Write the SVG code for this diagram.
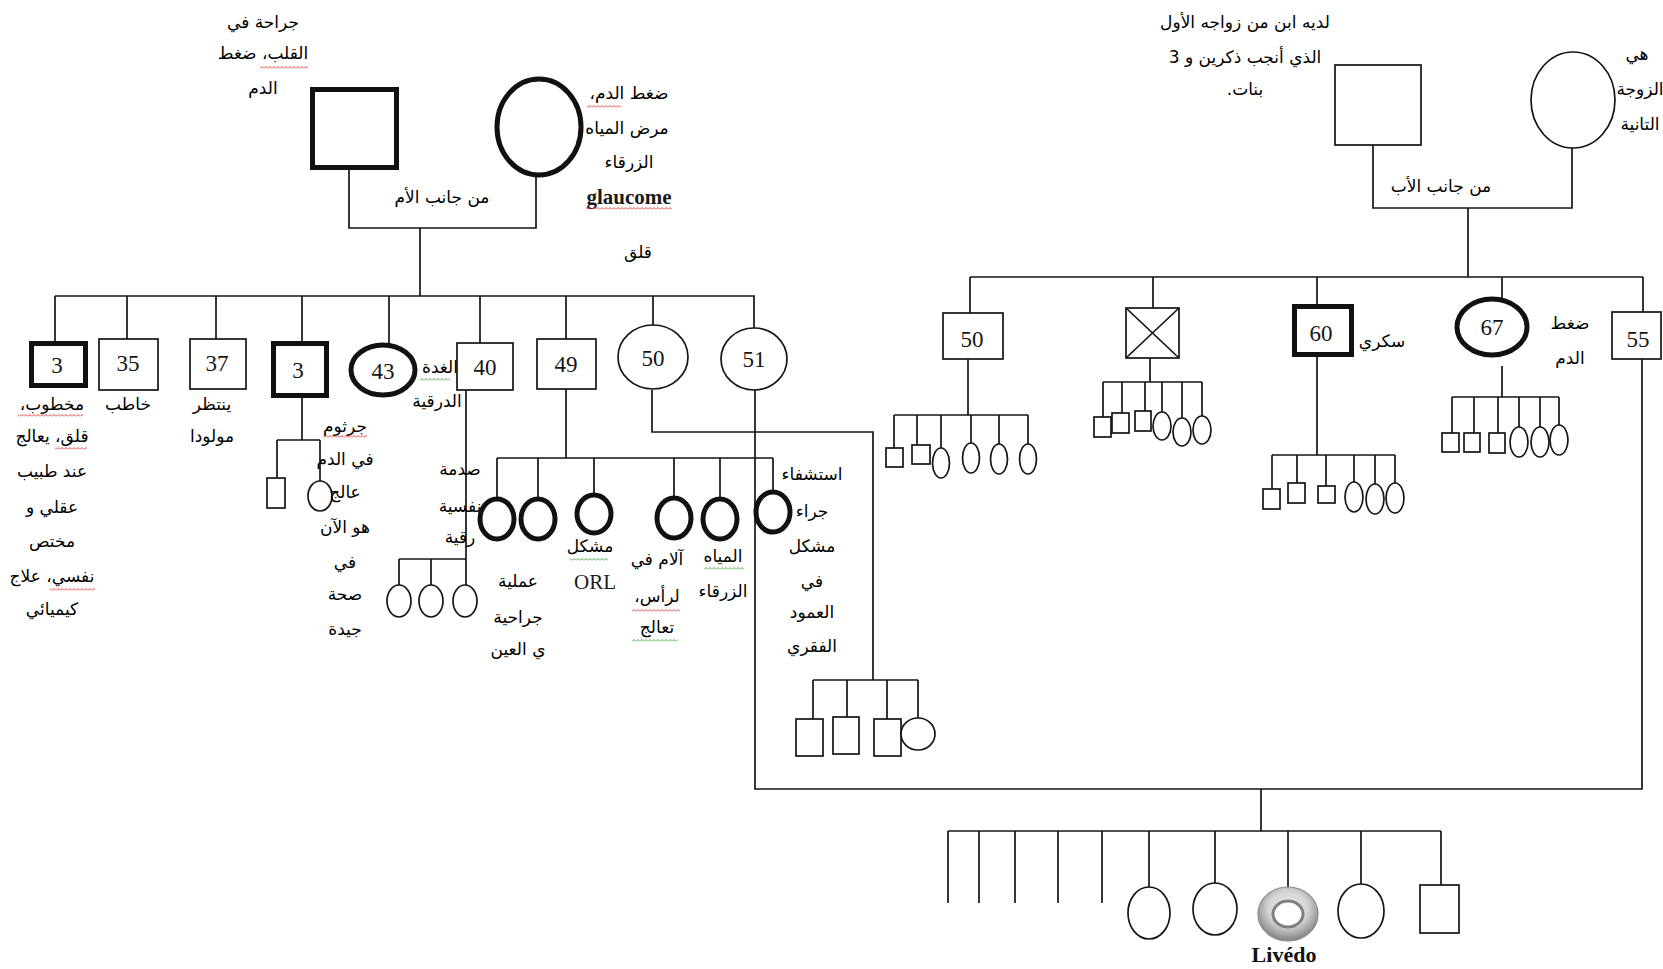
<svg xmlns="http://www.w3.org/2000/svg" width="1663" height="969" viewBox="0 0 1663 969">
<style>
.ln{stroke:#151515;stroke-width:1.7;fill:none}
.n{fill:#fff;stroke:#151515;stroke-width:1.7}
.nk{fill:#fff;stroke:#111;stroke-width:5}
.ar{font-family:"DejaVu Sans",sans-serif;font-size:17px;fill:#000;direction:rtl;text-anchor:middle}
.num{font-family:"Liberation Serif",serif;font-size:23px;fill:#151515;text-anchor:middle}
.lat{font-family:"Liberation Serif",serif;font-size:21px;fill:#1a1a1a;text-anchor:middle}
</style>
<defs>
<pattern id="wr" width="4" height="3" patternUnits="userSpaceOnUse"><path d="M0,2.5 L2,0.5 L4,2.5" stroke="#e0302a" stroke-width="0.9" fill="none"/></pattern>
<pattern id="wg" width="4" height="3" patternUnits="userSpaceOnUse"><path d="M0,2.5 L2,0.5 L4,2.5" stroke="#3aa03a" stroke-width="0.9" fill="none"/></pattern>
<radialGradient id="ring" cx="50%" cy="40%" r="62%">
<stop offset="0%" stop-color="#f8f8f8"/>
<stop offset="55%" stop-color="#d0d0d0"/>
<stop offset="100%" stop-color="#7a7a7a"/>
</radialGradient>
</defs>
<rect width="1663" height="969" fill="#fff"/>

<g id="connectors">
<path class="ln" d="M349,170 V228 H536 V177"/>
<path class="ln" d="M420,228 V296"/>
<path class="ln" d="M55,296 H755"/>
<path class="ln" d="M55,296 V341 M127,296 V339 M216,296 V339 M302,296 V341 M389,296 V345 M480,296 V343 M566,296 V339 M653,296 V325 M754,296 V328"/>
<path class="ln" d="M302,398 V440 M277,440 H320 M277,440 V478 M320,440 V481"/>
<path class="ln" d="M466,390 V585 M399,559 H466 M399,559 V585 M431,559 V585"/>
<path class="ln" d="M566,389 V458 M497,458 H773 M497,458 V497 M538,458 V497 M594,458 V493 M674,458 V496 M720,458 V497 M773,458 V490"/>
<path class="ln" d="M652,390 V432 H873 V680 M813,680 H918 M813,680 V719 M847,680 V717 M887,680 V719 M918,680 V718"/>
<path class="ln" d="M755,390 V789 H1642 V359"/>
<path class="ln" d="M1261,789 V831 M948,831 H1441"/>
<path class="ln" d="M948,831 V903 M979,831 V903 M1015,831 V903 M1058,831 V903 M1102,831 V903 M1149,831 V887 M1215,831 V883 M1288,831 V888 M1361,831 V884 M1441,831 V885"/>
<path class="ln" d="M1373,145 V208 H1572 V148"/>
<path class="ln" d="M1468,208 V277"/>
<path class="ln" d="M970,277 H1643"/>
<path class="ln" d="M970,277 V313 M1153,277 V308 M1317,277 V304 M1502,277 V300 M1643,277 V312"/>
<path class="ln" d="M968,359 V415 M894,415 H1028 M894,415 V448 M917,415 V445 M941,415 V448 M971,415 V443 M999,415 V444 M1028,415 V444"/>
<path class="ln" d="M1150,358 V382 M1103,382 H1202 M1103,382 V417 M1122,382 V413 M1145,382 V411 M1162,382 V412 M1182,382 V418 M1202,382 V416"/>
<path class="ln" d="M1317,357 V455 M1272,455 H1395 M1272,455 V489 M1297,455 V483 M1326,455 V486 M1354,455 V482 M1375,455 V484 M1395,455 V483"/>
<path class="ln" d="M1502,366 V397 M1452,397 H1559 M1452,397 V433 M1474,397 V433 M1498,397 V433 M1519,397 V427 M1540,397 V427 M1559,397 V425"/>
</g>

<g id="m-grandfather">
<rect class="nk" x="312.5" y="89.5" width="84" height="78"/>
<text class="ar" x="263" y="28">جراحة في</text>
<text class="ar" x="263" y="59">القلب، ضغط</text>
<text class="ar" x="263" y="94">الدم</text>
<rect x="260" y="66" width="48" height="3" fill="url(#wr)"/>
</g>
<g id="m-grandmother">
<ellipse class="nk" cx="539" cy="127" rx="42" ry="48"/>
<text class="ar" x="629" y="99">ضغط الدم،</text>
<text class="ar" x="627" y="134">مرض المياه</text>
<text class="ar" x="629" y="168">الزرقاء</text>
<text class="lat" x="629" y="204" font-weight="bold">glaucome</text>
<text class="ar" x="638" y="258">قلق</text>
<rect x="587" y="105" width="34" height="3" fill="url(#wr)"/>
<rect x="586" y="207" width="86" height="3" fill="url(#wr)"/>
</g>
<g id="m-label"><text class="ar" x="442" y="203">من جانب الأم</text></g>

<g id="mc1">
<rect class="nk" x="31.5" y="343.5" width="54" height="42"/>
<text class="num" x="57" y="373">3</text>
<text class="ar" x="52" y="410">مخطوب،</text>
<text class="ar" x="52" y="442">قلق، يعالج</text>
<text class="ar" x="52" y="477">عند طبيب</text>
<text class="ar" x="52" y="513">عقلي و</text>
<text class="ar" x="52" y="547">مختص</text>
<text class="ar" x="52" y="582">نفسي، علاج</text>
<text class="ar" x="52" y="615">كيميائي</text>
<rect x="18" y="414" width="65" height="3" fill="url(#wr)"/>
<rect x="55" y="447" width="32" height="3" fill="url(#wr)"/>
<rect x="50" y="588" width="45" height="3" fill="url(#wr)"/>
</g>
<g id="mc2">
<rect class="n" x="99" y="339" width="59" height="51"/>
<text class="num" x="128" y="371">35</text>
<text class="ar" x="128" y="410">خاطب</text>
</g>
<g id="mc3">
<rect class="n" x="190" y="339" width="56" height="50"/>
<text class="num" x="217" y="371">37</text>
<text class="ar" x="212" y="410">ينتظر</text>
<text class="ar" x="212" y="442">مولودا</text>
</g>
<g id="mc4">
<rect class="nk" x="273.5" y="343.5" width="53" height="52"/>
<text class="num" x="298" y="378">3</text>
<rect class="n" x="267" y="478" width="18" height="30"/>
<ellipse class="n" cx="320" cy="496" rx="12" ry="15"/>
<text class="ar" x="345" y="432">جرثوم</text>
<text class="ar" x="345" y="465">في الدم</text>
<text class="ar" x="345" y="498">عالج</text>
<text class="ar" x="345" y="533">هو الآن</text>
<text class="ar" x="345" y="568">في</text>
<text class="ar" x="345" y="600">صحة</text>
<text class="ar" x="345" y="635">جيدة</text>
<rect x="323" y="435" width="44" height="3" fill="url(#wr)"/>
</g>
<g id="mc5">
<ellipse class="nk" cx="383" cy="370" rx="32" ry="25"/>
<text class="num" x="383" y="379">43</text>
<text class="ar" x="440" y="373">الغدة</text>
<text class="ar" x="437" y="407">الدرقية</text>
<rect x="420" y="378" width="30" height="3" fill="url(#wg)"/>
</g>
<g id="mc6">
<rect class="n" x="457" y="343" width="56" height="47"/>
<text class="num" x="485" y="375">40</text>
<ellipse class="n" cx="399" cy="601" rx="12" ry="16"/>
<ellipse class="n" cx="431" cy="601" rx="12" ry="16"/>
<ellipse class="n" cx="465" cy="601" rx="12" ry="16"/>
<text class="ar" x="460" y="475">صدمة</text>
<text class="ar" x="460" y="512">نفسية</text>
<text class="ar" x="460" y="543">رقية</text>
</g>
<g id="mc7">
<rect class="n" x="537" y="339" width="59" height="50"/>
<text class="num" x="566" y="372">49</text>
<ellipse class="nk" cx="497" cy="519" rx="17" ry="20"/>
<ellipse class="nk" cx="538" cy="519" rx="17" ry="20"/>
<ellipse class="nk" cx="594" cy="514" rx="17" ry="19"/>
<ellipse class="nk" cx="674" cy="518" rx="17" ry="20"/>
<ellipse class="nk" cx="720" cy="519" rx="17" ry="20"/>
<ellipse class="nk" cx="773" cy="512" rx="17" ry="20"/>
<text class="ar" x="518" y="587">عملية</text>
<text class="ar" x="518" y="623">جراحية</text>
<text class="ar" x="518" y="655">ي العين</text>
<text class="ar" x="590" y="552">مشكل</text>
<text class="lat" x="595" y="589">ORL</text>
<text class="ar" x="657" y="565">آلام في</text>
<text class="ar" x="657" y="602">لرأس،</text>
<text class="ar" x="657" y="633">تعالج</text>
<text class="ar" x="723" y="562">المياه</text>
<text class="ar" x="723" y="597">الزرقاء</text>
<text class="ar" x="812" y="480">استشفاء</text>
<text class="ar" x="812" y="517">جراء</text>
<text class="ar" x="812" y="552">مشكل</text>
<text class="ar" x="812" y="587">في</text>
<text class="ar" x="812" y="618">العمود</text>
<text class="ar" x="812" y="652">الفقري</text>
<rect x="570" y="558" width="38" height="3" fill="url(#wg)"/>
<rect x="632" y="609" width="48" height="3" fill="url(#wr)"/>
<rect x="632" y="639" width="46" height="3" fill="url(#wg)"/>
<rect x="704" y="567" width="40" height="3" fill="url(#wg)"/>
</g>
<g id="mc8">
<ellipse class="n" cx="653" cy="357" rx="35" ry="32"/>
<text class="num" x="653" y="366">50</text>
<rect class="n" x="796" y="719" width="27" height="37"/>
<rect class="n" x="833" y="717" width="26" height="37"/>
<rect class="n" x="874" y="719" width="27" height="37"/>
<ellipse class="n" cx="918" cy="734" rx="17" ry="16"/>
</g>
<g id="mc9">
<ellipse class="n" cx="754" cy="359" rx="33" ry="31"/>
<text class="num" x="754" y="367">51</text>
</g>

<g id="p-grandfather">
<rect class="n" x="1335" y="65" width="86" height="80"/>
<text class="ar" x="1245" y="28">لديه ابن من زواجه الأول</text>
<text class="ar" x="1245" y="63">الذي أنجب ذكرين و 3</text>
<text class="ar" x="1245" y="95">بنات.</text>
</g>
<g id="p-grandmother">
<ellipse class="n" cx="1573" cy="100" rx="42" ry="48"/>
<text class="ar" x="1637" y="60">هي</text>
<text class="ar" x="1640" y="95">الزوجة</text>
<text class="ar" x="1640" y="130">التانية</text>
</g>
<g id="p-label"><text class="ar" x="1441" y="192">من جانب الأب</text></g>

<g id="pc1">
<rect class="n" x="943" y="313" width="60" height="46"/>
<text class="num" x="972" y="347">50</text>
<rect class="n" x="886" y="448" width="17" height="19"/>
<rect class="n" x="912" y="445" width="18" height="19"/>
<ellipse class="n" cx="941" cy="463" rx="8.5" ry="15"/>
<ellipse class="n" cx="971" cy="458" rx="8.5" ry="15"/>
<ellipse class="n" cx="999" cy="459" rx="8.5" ry="15"/>
<ellipse class="n" cx="1028" cy="459" rx="8.5" ry="15"/>
</g>
<g id="pc2">
<rect class="n" x="1126" y="308" width="53" height="50"/>
<path class="ln" d="M1126,308 L1179,358 M1179,308 L1126,358"/>
<rect class="n" x="1094" y="417" width="17" height="20"/>
<rect class="n" x="1112" y="413" width="17" height="20"/>
<rect class="n" x="1135" y="411" width="16" height="20"/>
<ellipse class="n" cx="1162" cy="426" rx="9" ry="14"/>
<ellipse class="n" cx="1182" cy="432" rx="9" ry="14"/>
<ellipse class="n" cx="1202" cy="430" rx="9" ry="14"/>
</g>
<g id="pc3">
<rect class="nk" x="1294.5" y="306.5" width="57" height="48"/>
<text class="num" x="1321" y="341">60</text>
<text class="ar" x="1382" y="347">سكري</text>
<rect class="n" x="1263" y="489" width="17" height="20"/>
<rect class="n" x="1288" y="483" width="17" height="20"/>
<rect class="n" x="1318" y="486" width="17" height="17"/>
<ellipse class="n" cx="1354" cy="497" rx="9" ry="15"/>
<ellipse class="n" cx="1375" cy="499" rx="9" ry="15"/>
<ellipse class="n" cx="1395" cy="498" rx="9" ry="15"/>
</g>
<g id="pc4">
<ellipse class="nk" cx="1492" cy="327" rx="35" ry="28"/>
<text class="num" x="1492" y="335">67</text>
<text class="ar" x="1570" y="329">ضغط</text>
<text class="ar" x="1570" y="364">الدم</text>
<rect class="n" x="1442" y="433" width="17" height="19"/>
<rect class="n" x="1464" y="433" width="16" height="19"/>
<rect class="n" x="1489" y="433" width="16" height="20"/>
<ellipse class="n" cx="1519" cy="442" rx="9" ry="15"/>
<ellipse class="n" cx="1540" cy="442" rx="9" ry="15"/>
<ellipse class="n" cx="1559" cy="440" rx="9" ry="15"/>
</g>
<g id="pc5">
<rect class="n" x="1612" y="312" width="49" height="47"/>
<text class="num" x="1638" y="347">55</text>
</g>

<g id="g3-1"><ellipse class="n" cx="1149" cy="913" rx="21" ry="26"/></g>
<g id="g3-2"><ellipse class="n" cx="1215" cy="909" rx="22" ry="26"/></g>
<g id="proband">
<ellipse cx="1288" cy="914" rx="30" ry="27" fill="url(#ring)" stroke="#8a8a8a" stroke-width="1.2"/>
<ellipse cx="1288" cy="914" rx="15" ry="13" fill="#fff" stroke="#808080" stroke-width="3"/>
<text x="1284" y="962" font-family="Liberation Serif, serif" font-size="22" font-weight="bold" fill="#111" text-anchor="middle">Livédo</text>
</g>
<g id="g3-4"><ellipse class="n" cx="1361" cy="911" rx="23" ry="27"/></g>
<g id="g3-5"><rect class="n" x="1420" y="885" width="39" height="48"/></g>
</svg>
